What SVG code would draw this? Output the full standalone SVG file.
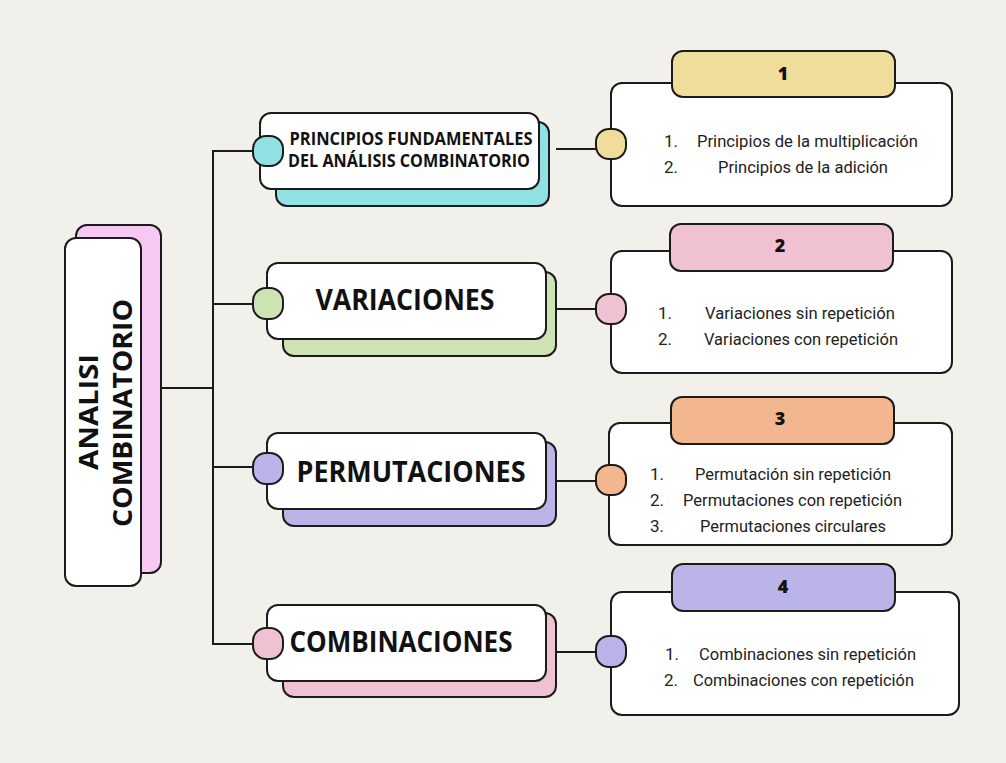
<svg xmlns="http://www.w3.org/2000/svg" width="1006" height="763" viewBox="0 0 1006 763">
<style>
.bg{fill:#f1f0eb}
.st{stroke:#1b1b1b;stroke-width:2}
.w{fill:#ffffff}
.ln{stroke:#1b1b1b;stroke-width:2;fill:none}
.hd{font-family:"Open Sans","DejaVu Sans",sans-serif;font-weight:700;fill:#111;text-anchor:middle}
.it{font-family:Roboto,"Liberation Sans",sans-serif;font-size:17px;fill:#222}
.num{font-family:"Open Sans","DejaVu Sans",sans-serif;font-weight:800;font-size:18px;fill:#111;text-anchor:middle}
</style>
<rect class="bg" x="0" y="0" width="1006" height="763"/>

<g id="connectors">
<line class="ln" x1="213" y1="150" x2="213" y2="645"/>
<line class="ln" x1="160" y1="388" x2="213" y2="388"/>
<line class="ln" x1="213" y1="151" x2="254" y2="151"/>
<line class="ln" x1="213" y1="304" x2="254" y2="304"/>
<line class="ln" x1="213" y1="467" x2="254" y2="467"/>
<line class="ln" x1="213" y1="644" x2="254" y2="644"/>
<line class="ln" x1="556" y1="149" x2="597" y2="149"/>
<line class="ln" x1="556" y1="309" x2="597" y2="309"/>
<line class="ln" x1="556" y1="481" x2="597" y2="481"/>
<line class="ln" x1="556" y1="652" x2="597" y2="652"/>
</g>

<g id="root">
<rect class="st" fill="#f8c8f4" x="76" y="225" width="85" height="348" rx="11"/>
<rect class="st w" x="65" y="238" width="76" height="348" rx="11"/>
<text class="hd" font-size="26" transform="translate(98 412) rotate(-90)" textLength="116" lengthAdjust="spacingAndGlyphs">ANALISI</text>
<text class="hd" font-size="26" transform="translate(132 413) rotate(-90)" textLength="228" lengthAdjust="spacingAndGlyphs">COMBINATORIO</text>
</g>

<g id="n-principios">
<rect class="st" fill="#8fe1e2" x="276" y="122" width="273" height="84" rx="11"/>
<rect class="st w" x="260" y="113" width="279" height="76" rx="11"/>
<rect class="st" fill="#8fe1e2" x="253" y="136" width="30" height="30" rx="13"/>
<text class="hd" font-size="17" x="411" y="145" textLength="243" lengthAdjust="spacingAndGlyphs">PRINCIPIOS FUNDAMENTALES</text>
<text class="hd" font-size="17" x="409" y="167" textLength="242" lengthAdjust="spacingAndGlyphs">DEL ANÁLISIS COMBINATORIO</text>
</g>

<g id="n-variaciones">
<rect class="st" fill="#cde3b3" x="283" y="272" width="273" height="84" rx="11"/>
<rect class="st w" x="267" y="263" width="279" height="76" rx="11"/>
<rect class="st" fill="#cde3b3" x="253" y="288" width="30" height="31" rx="13"/>
<text class="hd" font-size="29" x="405" y="310" textLength="179" lengthAdjust="spacingAndGlyphs">VARIACIONES</text>
</g>

<g id="n-permutaciones">
<rect class="st" fill="#bab4e8" x="283" y="442" width="273" height="84" rx="11"/>
<rect class="st w" x="267" y="433" width="279" height="76" rx="11"/>
<rect class="st" fill="#bab4e8" x="253" y="453" width="30" height="31" rx="13"/>
<text class="hd" font-size="29" x="411" y="482" textLength="229" lengthAdjust="spacingAndGlyphs">PERMUTACIONES</text>
</g>

<g id="n-combinaciones">
<rect class="st" fill="#efc1d3" x="283" y="613" width="273" height="84" rx="11"/>
<rect class="st w" x="267" y="605" width="279" height="76" rx="11"/>
<rect class="st" fill="#efc1d3" x="253" y="628" width="30" height="31" rx="13"/>
<text class="hd" font-size="29" x="401" y="652" textLength="223" lengthAdjust="spacingAndGlyphs">COMBINACIONES</text>
</g>

<g id="d1">
<rect class="st w" x="611" y="83" width="341" height="123" rx="11"/>
<rect class="st" fill="#f0dd9c" x="672" y="51" width="223" height="46" rx="11"/>
<rect class="st" fill="#f0dd9c" x="596" y="129" width="30" height="30" rx="13"/>
<text class="num" x="783" y="80">1</text>
<text class="it" x="664" y="147">1.</text>
<text class="it" x="697" y="147" textLength="221" lengthAdjust="spacingAndGlyphs">Principios de la multiplicación</text>
<text class="it" x="664" y="173">2.</text>
<text class="it" x="718" y="173" textLength="170" lengthAdjust="spacingAndGlyphs">Principios de la adición</text>
</g>

<g id="d2">
<rect class="st w" x="611" y="251" width="341" height="122" rx="11"/>
<rect class="st" fill="#efc1d3" x="670" y="224" width="223" height="47" rx="11"/>
<rect class="st" fill="#efc1d3" x="596" y="294" width="30" height="30" rx="13"/>
<text class="num" x="780" y="252">2</text>
<text class="it" x="658" y="319">1.</text>
<text class="it" x="705" y="319" textLength="190" lengthAdjust="spacingAndGlyphs">Variaciones sin repetición</text>
<text class="it" x="658" y="345">2.</text>
<text class="it" x="704" y="345" textLength="194" lengthAdjust="spacingAndGlyphs">Variaciones con repetición</text>
</g>

<g id="d3">
<rect class="st w" x="609" y="423" width="343" height="122" rx="11"/>
<rect class="st" fill="#f3b78f" x="671" y="397" width="223" height="47" rx="11"/>
<rect class="st" fill="#f3b78f" x="596" y="465" width="30" height="30" rx="13"/>
<text class="num" x="780" y="425">3</text>
<text class="it" x="650" y="480">1.</text>
<text class="it" x="695" y="480" textLength="196" lengthAdjust="spacingAndGlyphs">Permutación sin repetición</text>
<text class="it" x="650" y="506">2.</text>
<text class="it" x="683" y="506" textLength="219" lengthAdjust="spacingAndGlyphs">Permutaciones con repetición</text>
<text class="it" x="650" y="532">3.</text>
<text class="it" x="700" y="532" textLength="186" lengthAdjust="spacingAndGlyphs">Permutaciones circulares</text>
</g>

<g id="d4">
<rect class="st w" x="611" y="592" width="348" height="123" rx="11"/>
<rect class="st" fill="#bab4e8" x="672" y="564" width="223" height="47" rx="11"/>
<rect class="st" fill="#bab4e8" x="596" y="636" width="30" height="31" rx="13"/>
<text class="num" x="783" y="593">4</text>
<text class="it" x="665" y="660">1.</text>
<text class="it" x="699" y="660" textLength="217" lengthAdjust="spacingAndGlyphs">Combinaciones sin repetición</text>
<text class="it" x="664" y="686">2.</text>
<text class="it" x="693" y="686" textLength="221" lengthAdjust="spacingAndGlyphs">Combinaciones con repetición</text>
</g>
</svg>
